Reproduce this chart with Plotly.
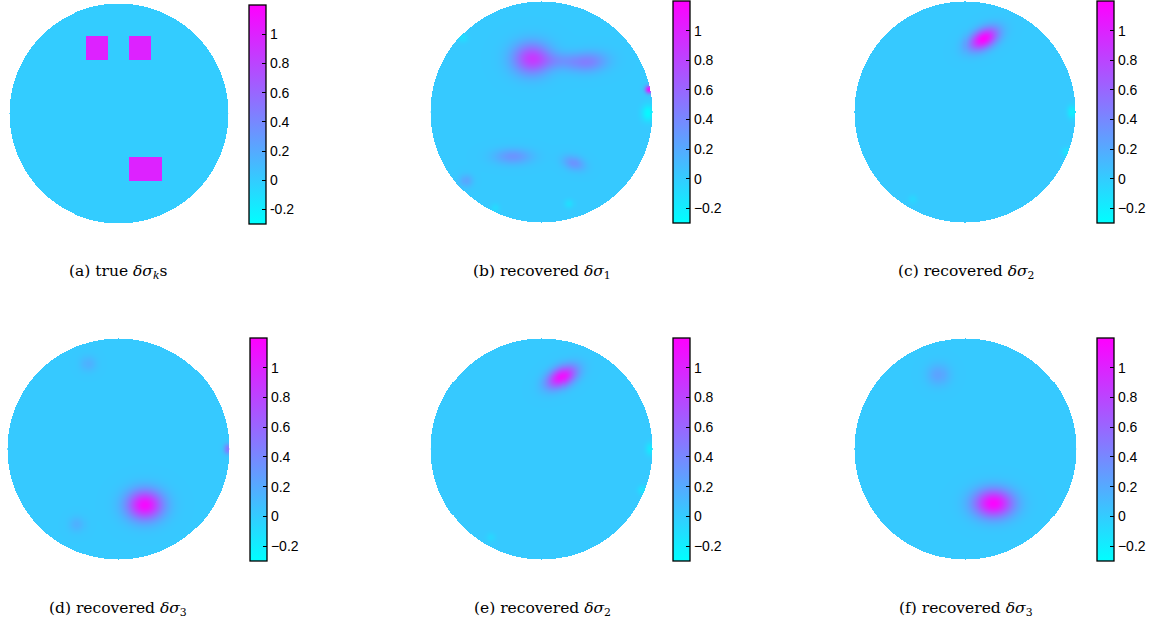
import numpy as np
import plotly.graph_objects as go

# ---------------- data ----------------
captions = ["(a) true <i>δσ</i><sub><i>k</i></sub>s",
            "(b) recovered <i>δσ</i><sub>1</sub>",
            "(c) recovered <i>δσ</i><sub>2</sub>",
            "(d) recovered <i>δσ</i><sub>3</sub>",
            "(e) recovered <i>δσ</i><sub>2</sub>",
            "(f) recovered <i>δσ</i><sub>3</sub>"]

cbar_tickvals = [-0.2, 0, 0.2, 0.4, 0.6, 0.8, 1]
cbar_ticktext_a = ["-0.2", "0", "0.2", "0.4", "0.6", "0.8", "1"]
cbar_ticktext = ["−0.2", "0", "0.2", "0.4", "0.6", "0.8", "1"]
value_min, value_max = -0.3, 1.2

# true inclusions (unit-disk coords): x0, x1, y0, y1, value
true_x0 = [-0.30, 0.096, 0.096]
true_x1 = [-0.10, 0.294, 0.395]
true_y0 = [0.49, 0.49, -0.61]
true_y1 = [0.70, 0.70, -0.40]
true_val = [1.0, 1.0, 1.0]
true_background = 0.0

# recovered blobs per panel: centre x, centre y, amplitude, sx, sy, angle(deg)
blobs_b = {"cx":  [-0.09, 0.42, 0.17, -0.26, 0.29, -0.68, 0.97, 0.96, -0.71, 0.25, -0.42],
           "cy":  [0.48, 0.45, 0.46, -0.40, -0.46, -0.62, 0.20, -0.01, 0.67, -0.83, -0.87],
           "amp": [0.80, 0.38, 0.22, 0.30, 0.30, 0.20, 1.10, -0.28, -0.12, -0.12, -0.10],
           "sx":  [0.12, 0.12, 0.14, 0.12, 0.07, 0.04, 0.025, 0.04, 0.03, 0.03, 0.03],
           "sy":  [0.10, 0.065, 0.055, 0.05, 0.045, 0.04, 0.025, 0.05, 0.03, 0.03, 0.03],
           "ang": [0, 5, 0, 0, -20, 0, 0, 0, 0, 0, 0]}
blobs_c = {"cx":  [0.165, 0.97, 0.92, -0.47],
           "cy":  [0.66, 0.00, -0.36, -0.79],
           "amp": [1.15, -0.22, -0.15, -0.08],
           "sx":  [0.10, 0.03, 0.03, 0.03],
           "sy":  [0.06, 0.04, 0.03, 0.03],
           "ang": [30, 0, 0, 0]}
blobs_d = {"cx":  [0.24, -0.27, -0.37, 0.985],
           "cy":  [-0.505, 0.77, -0.68, 0.00],
           "amp": [1.12, 0.14, 0.14, 0.45],
           "sx":  [0.115, 0.05, 0.05, 0.025],
           "sy":  [0.095, 0.05, 0.05, 0.03],
           "ang": [0, 0, 0, 0]}
blobs_e = {"cx":  [0.18, 0.98, 0.91, -0.46],
           "cy":  [0.65, 0.00, -0.37, -0.80],
           "amp": [1.08, -0.18, -0.15, -0.08],
           "sx":  [0.10, 0.03, 0.03, 0.03],
           "sy":  [0.06, 0.04, 0.03, 0.03],
           "ang": [30, 0, 0, 0]}
blobs_f = {"cx":  [0.255, -0.24],
           "cy":  [-0.49, 0.67],
           "amp": [1.15, 0.22],
           "sx":  [0.125, 0.07],
           "sy":  [0.09, 0.07],
           "ang": [0, 0]}
recovered_background = 0.02

# ---------------- field construction ----------------
N = 221
grid = np.linspace(-1, 1, N)
X, Y = np.meshgrid(grid, grid)
inside = X**2 + Y**2 <= 1.0


def true_field():
    Z = np.full_like(X, true_background)
    for x0, x1, y0, y1, v in zip(true_x0, true_x1, true_y0, true_y1, true_val):
        Z[(X >= x0) & (X <= x1) & (Y >= y0) & (Y <= y1)] = v
    Z[~inside] = np.nan
    return np.round(Z, 3)


def blob_field(b):
    Z = np.full_like(X, recovered_background)
    for cx, cy, a, sx, sy, ang in zip(b["cx"], b["cy"], b["amp"], b["sx"], b["sy"], b["ang"]):
        t = np.deg2rad(ang)
        dx, dy = X - cx, Y - cy
        u = dx * np.cos(t) + dy * np.sin(t)
        w = -dx * np.sin(t) + dy * np.cos(t)
        Z = Z + a * np.exp(-0.5 * ((u / sx) ** 2 + (w / sy) ** 2))
    Z = np.clip(Z, value_min, value_max)
    Z[~inside] = np.nan
    return np.round(Z, 3)


fields = [true_field(), blob_field(blobs_b), blob_field(blobs_c),
          blob_field(blobs_d), blob_field(blobs_e), blob_field(blobs_f)]

# ---------------- layout geometry (pixels) ----------------
W, H = 1153, 629
disk_cx = [118.8, 541.7, 965.0, 118.3, 541.8, 965.2]
disk_cy = [113.5, 112.0, 112.0, 449.0, 449.0, 449.0]
disk_r = [109.5, 111.0, 111.0, 111.0, 111.0, 111.0]
cb_x0 = [249, 673, 1097, 250, 673, 1097]
cb_y0 = [5, 1, 1, 338, 338, 338]
cb_y1 = [224, 223, 223, 561, 561, 561]
cb_thick = 17
cap_cx = [118, 542, 966, 118, 542, 966]
cap_cy = [272, 272, 272, 609, 609, 609]

colorscale = [[0, "rgb(0,255,255)"], [1, "rgb(255,0,255)"]]

fig = go.Figure()
shapes = []
for i, Z in enumerate(fields):
    k = "" if i == 0 else str(i + 1)
    ticktext = cbar_ticktext_a if i == 0 else cbar_ticktext
    fig.add_trace(go.Heatmap(
        x=grid, y=grid, z=Z, xaxis="x" + k, yaxis="y" + k,
        colorscale=colorscale, zmin=value_min, zmax=value_max,
        hoverongaps=False,
        colorbar=dict(
            x=cb_x0[i] / W, xanchor="left",
            y=1 - (cb_y0[i] + cb_y1[i]) / 2 / H, yanchor="middle",
            len=(cb_y1[i] - cb_y0[i]) / H, lenmode="fraction",
            thickness=cb_thick, thicknessmode="pixels",
            xpad=0, ypad=0,
            outlinewidth=1.3, outlinecolor="black",
            tickvals=cbar_tickvals, ticktext=ticktext,
            ticks="inside", ticklen=4, tickcolor="black", tickwidth=1,
            tickfont=dict(family="Liberation Sans, Arial", size=14, color="black"),
        ),
    ))
    # tick marks on the left edge of the colour bar (as in the reference)
    for v in cbar_tickvals:
        ypx = cb_y1[i] - (v - value_min) / (value_max - value_min) * (cb_y1[i] - cb_y0[i])
        shapes.append(dict(type="line", xref="paper", yref="paper",
                           x0=cb_x0[i] / W, x1=(cb_x0[i] + 4) / W,
                           y0=1 - ypx / H, y1=1 - ypx / H,
                           line=dict(color="black", width=1)))
    dx0 = (disk_cx[i] - disk_r[i]) / W
    dx1 = (disk_cx[i] + disk_r[i]) / W
    dy0 = 1 - (disk_cy[i] + disk_r[i]) / H
    dy1 = 1 - (disk_cy[i] - disk_r[i]) / H
    fig.update_layout(**{
        "xaxis" + k: dict(domain=[dx0, dx1], range=[-1, 1], visible=False,
                          showgrid=False, zeroline=False, anchor="y" + k),
        "yaxis" + k: dict(domain=[dy0, dy1], range=[-1, 1], visible=False,
                          showgrid=False, zeroline=False, anchor="x" + k),
    })
    fig.add_annotation(
        text=captions[i], xref="paper", yref="paper",
        x=cap_cx[i] / W, y=1 - cap_cy[i] / H, xanchor="center", yanchor="middle",
        showarrow=False,
        font=dict(family="DejaVu Serif, Liberation Serif, serif", size=15.5, color="black"),
    )

fig.update_layout(
    width=W, height=H,
    margin=dict(l=0, r=0, t=0, b=0),
    paper_bgcolor="white", plot_bgcolor="white",
    showlegend=False,
    shapes=shapes,
)

fig.write_html("out.html",
               config={"displayModeBar": False},
               post_script="document.body.style.margin='0';document.body.style.overflow='hidden';")
